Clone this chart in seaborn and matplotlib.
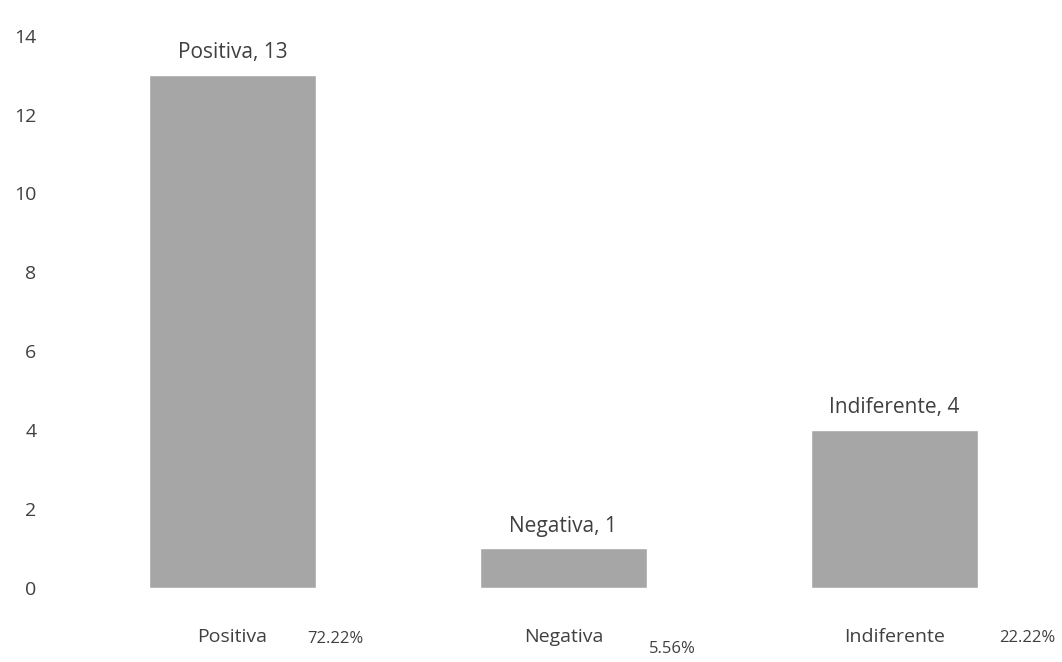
import pandas as pd
import matplotlib.pyplot as plt
import seaborn as sns

categories = ["Positiva", "Negativa", "Indiferente"]
counts = [13, 1, 4]
y_ticks = [0, 2, 4, 6, 8, 10, 12, 14]

df = pd.DataFrame({"Opinion": categories, "Count": counts})
total = sum(counts)
df["Pct"] = [f"{c / total * 100:.2f}%" for c in counts]

sns.set_style("white")
plt.rcParams["font.family"] = ["Open Sans", "DejaVu Sans"]

text_color = "#404040"
bar_color = "#a6a6a6"

fig, ax = plt.subplots(figsize=(10.62, 6.62), dpi=100)
fig.subplots_adjust(left=0.063, right=0.998, bottom=0.112, top=0.946)

sns.barplot(df, x="Opinion", y="Count", color=bar_color, width=0.505, ax=ax,
            saturation=1)

for i, row in df.iterrows():
    ax.text(i, row["Count"] + 0.3, f"{row['Opinion']}, {row['Count']}",
            ha="center", va="bottom", fontsize=15, color=text_color)

# percentages sit to the right of each category label
pct_offsets = [(0.31, -0.093), (0.33, -0.11), (0.40, -0.09)]
for i, row in df.iterrows():
    dx, dy = pct_offsets[i]
    ax.text(i + dx, dy, row["Pct"], transform=ax.get_xaxis_transform(),
            ha="center", va="center", fontsize=12, color=text_color)

ax.set_ylim(0, 14)
ax.set_xlim(-0.5, 2.5)
ax.set_yticks(y_ticks)
ax.tick_params(axis="y", labelsize=14, labelcolor=text_color, length=0, pad=22)
ax.tick_params(axis="x", labelsize=14, labelcolor=text_color, length=0, pad=29)
ax.set_xlabel("")
ax.set_ylabel("")
sns.despine(ax=ax, left=True, bottom=True)

plt.savefig("out.png", dpi=100)
